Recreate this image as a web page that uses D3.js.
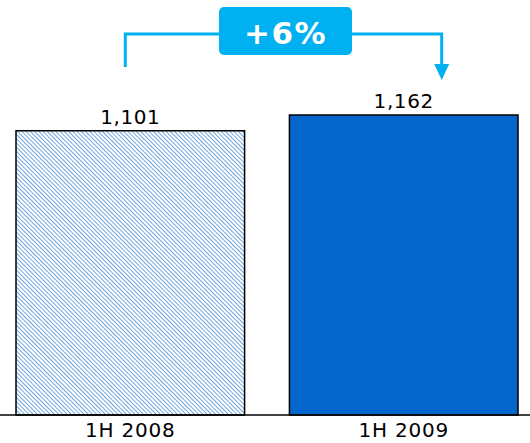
<!DOCTYPE html>
<html>
<head>
<meta charset="utf-8">
<script src="https://cdn.jsdelivr.net/npm/d3@7"></script>
<style>
  body { margin: 0; background: #fff; }
  svg { display: block; }
</style>
</head>
<body>
<div id="chart"></div>
<script>
// DATA //
const categories = ["1H 2008", "1H 2009"]
const values = [1101, 1162]
const valueLabels = ["1,101", "1,162"]
const changeLabel = "+6%"

// Set dimensions
const width = 530
const height = 443
const baseline = 415
const font = "Verdana, 'DejaVu Sans', sans-serif"

const svg = d3.select("#chart")
    .append("svg")
    .attr("width", width)
    .attr("height", height)

// hatch for the first bar
const defs = svg.append("defs")
defs.append("pattern")
    .attr("id", "hatch")
    .attr("patternUnits", "userSpaceOnUse")
    .attr("width", 3)
    .attr("height", 3)
    .attr("patternTransform", "rotate(-45)")
    .append("line")
    .attr("x1", 0.5).attr("y1", 0)
    .attr("x2", 0.5).attr("y2", 3)
    .attr("stroke", "#6fa6de")
    .attr("stroke-width", 1)

// Create scales
const xScale = d3.scaleBand()
    .domain(categories)
    .range([16, 518])
    .paddingInner(0.164)

const yScale = d3.scaleLinear()
    .domain([0, 1162])
    .range([baseline, 115])

const fills = ["url(#hatch)", "#0466cc"]

// bars
svg.selectAll("rect.bar")
    .data(values)
    .join("rect")
    .attr("class", "bar")
    .attr("x", (d, i) => xScale(categories[i]))
    .attr("y", d => yScale(d))
    .attr("width", xScale.bandwidth())
    .attr("height", d => baseline - yScale(d))
    .attr("fill", (d, i) => fills[i])
    .attr("stroke", "#000")
    .attr("stroke-width", 1.5)

// value labels
svg.selectAll("text.value")
    .data(values)
    .join("text")
    .attr("class", "value")
    .attr("x", (d, i) => xScale(categories[i]) + xScale.bandwidth() / 2)
    .attr("y", d => yScale(d) - 7)
    .attr("text-anchor", "middle")
    .style("font-family", font)
    .style("font-size", "20px")
    .style("letter-spacing", "0.6px")
    .attr("fill", "#000")
    .text((d, i) => valueLabels[i])

// x axis
const xAxisGenerator = d3.axisBottom(xScale).tickSize(0).tickPadding(0)
const xAxis = svg.append("g")
    .attr("transform", `translate(0, ${baseline})`)
    .call(xAxisGenerator)
xAxis.select(".domain").remove()
xAxis.selectAll("text")
    .attr("dy", null)
    .attr("y", 22)
    .style("font-family", font)
    .style("font-size", "20px")
    .style("letter-spacing", "0.8px")
    .attr("fill", "#000")

svg.append("line")
    .attr("x1", 0).attr("x2", width)
    .attr("y1", baseline).attr("y2", baseline)
    .attr("stroke", "#000")
    .attr("stroke-width", 1.5)

// growth arrow
const arrowColor = "#00b0f0"
const leftX = xScale(categories[0]) + xScale.bandwidth() / 2 - 5
const rightX = xScale(categories[1]) + xScale.bandwidth() / 2 + 38
const topY = 34

svg.append("path")
    .attr("d", `M${leftX},67 V${topY} H${rightX} V66`)
    .attr("fill", "none")
    .attr("stroke", arrowColor)
    .attr("stroke-width", 3)

svg.append("path")
    .attr("d", `M${rightX - 7.5},64 L${rightX + 7.5},64 L${rightX},80 Z`)
    .attr("fill", arrowColor)

svg.append("rect")
    .attr("x", 219)
    .attr("y", 7)
    .attr("width", 133)
    .attr("height", 48)
    .attr("rx", 5)
    .attr("fill", arrowColor)

svg.append("text")
    .attr("x", 285.5)
    .attr("y", 44)
    .attr("text-anchor", "middle")
    .style("font-family", font)
    .style("font-size", "31px")
    .style("font-weight", "bold")
    .style("letter-spacing", "1.5px")
    .attr("fill", "#fff")
    .text(changeLabel)
</script>
</body>
</html>
